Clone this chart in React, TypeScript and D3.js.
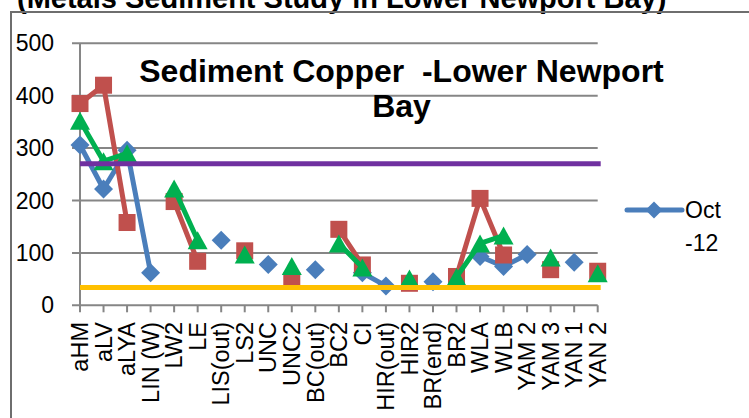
import React from "react";
import * as d3 from "d3";

const categories = ["aHM","aLV","aLYA","LIN (W)","LW2","LE","LIS(out)","LS2","UNC","UNC2","BC(out)","BC2","CI","HIR(out)","HIR2","BR(end)","BR2","WLA","WLB","YAM 2","YAM 3","YAN 1","YAN 2"];
const oct12: (number | null)[] = [306, 222, 296, 62, null, null, 124, null, 78, null, 68, null, 62, 37, null, 45, null, 93, 74, 97, null, 82, null];
const redSeries: (number | null)[] = [385, 420, 158, null, 198, 84, null, 104, null, 47, null, 145, 77, null, 42, null, 55, 204, 96, null, 68, null, 65];
const greenSeries: (number | null)[] = [352, 275, 290, null, 223, 124, null, 97, null, 75, null, 118, 72, null, 51, null, 54, 118, 133, null, 91, null, 61];
const ERM = 270;
const ERL = 34;
const yTicks = [0, 100, 200, 300, 400, 500];
const legendLines = ["Oct", "-12"];
const topTitle = "(Metals Sediment Study in Lower Newport Bay)";
const chartTitle = ["Sediment Copper  -Lower Newport", "Bay"];

const W = 749, H = 418;
const FONT = "'Liberation Sans', Arial, sans-serif";
const BLUE = "#4A7EBB", RED = "#C0504D", GREEN = "#00B050", PURPLE = "#7030A0", YELLOW = "#FFC000", GRID = "#868686";

const x = d3.scalePoint<string>().domain(categories).range([80, 597.7]);
const y = d3.scaleLinear().domain([0, 500]).range([305.3, 43.3]);

function diamond(cx: number, cy: number, r: number) {
  return `M${cx},${cy - r}L${cx + r},${cy}L${cx},${cy + r}L${cx - r},${cy}Z`;
}

function Series({ values, color, marker }: { values: (number | null)[]; color: string; marker: string }) {
  const line = d3.line<number | null>()
    .defined((d) => d != null)
    .x((_, i) => x(categories[i])!)
    .y((d) => y(d as number));
  return (
    <g>
      <path d={line(values) || ""} fill="none" stroke={color} strokeWidth={5} strokeLinejoin="round" />
      {values.map((v, i) => {
        if (v == null) return null;
        const cx = x(categories[i])!;
        const cy = y(v);
        if (marker === "diamond") return <path key={i} d={diamond(cx, cy, 9.5)} fill={color} />;
        if (marker === "square") return <rect key={i} x={cx - 8.5} y={cy - 8.5} width={17} height={17} fill={color} />;
        return <path key={i} d={`M${cx},${cy - 9}L${cx + 10},${cy + 9}L${cx - 10},${cy + 9}Z`} fill={color} />;
      })}
    </g>
  );
}

export default function App() {
  const x0 = x(categories[0])!;
  const x1 = x(categories[categories.length - 1])!;
  return (
    <svg width={W} height={H} style={{ position: "absolute", left: 0, top: 0, background: "#fff" }} fontFamily={FONT}>
      <rect x={0} y={0} width={W} height={H} fill="#fff" />
      <text x={17} y={8} fontSize={29} fontWeight="bold" fill="#000">{topTitle}</text>
      <path d={`M11,${H}V12H${W}`} fill="none" stroke="#6e6e6e" strokeWidth={2} />
      {yTicks.map((t) => (
        <g key={t}>
          <line x1={72} x2={x1} y1={y(t)} y2={y(t)} stroke={GRID} strokeWidth={2} />
          <text x={54} y={y(t)} dy="0.35em" textAnchor="end" fontSize={23} fill="#000">{t}</text>
        </g>
      ))}
      <line x1={x0} x2={x0} y1={y(500)} y2={y(0)} stroke={GRID} strokeWidth={2} />
      {categories.map((c) => (
        <g key={c}>
          <line x1={x(c)!} x2={x(c)!} y1={y(0)} y2={y(0) + 7} stroke={GRID} strokeWidth={2} />
          <text transform={`translate(${x(c)!},322) rotate(-90)`} dy="0.35em" textAnchor="end" fontSize={23.5} fill="#000">{c}</text>
        </g>
      ))}
      {chartTitle.map((t, i) => (
        <text key={i} x={401.5} y={81.7 + i * 35.3} textAnchor="middle" fontSize={32} fontWeight="bold" fill="#000" style={{ whiteSpace: "pre" }}>{t}</text>
      ))}
      <Series values={oct12} color={BLUE} marker="diamond" />
      <Series values={redSeries} color={RED} marker="square" />
      <Series values={greenSeries} color={GREEN} marker="triangle" />
      <line x1={x0} x2={x1 + 3} y1={y(ERM)} y2={y(ERM)} stroke={PURPLE} strokeWidth={5} />
      <line x1={x0} x2={x1 + 3} y1={y(ERL)} y2={y(ERL)} stroke={YELLOW} strokeWidth={5} />
      <line x1={627} x2={682} y1={210} y2={210} stroke={BLUE} strokeWidth={5} strokeLinecap="round" />
      <path d={diamond(654, 210, 8.5)} fill={BLUE} />
      {legendLines.map((t, i) => (
        <text key={i} x={685} y={218 + i * 33} fontSize={23} fill="#000">{t}</text>
      ))}
    </svg>
  );
}
